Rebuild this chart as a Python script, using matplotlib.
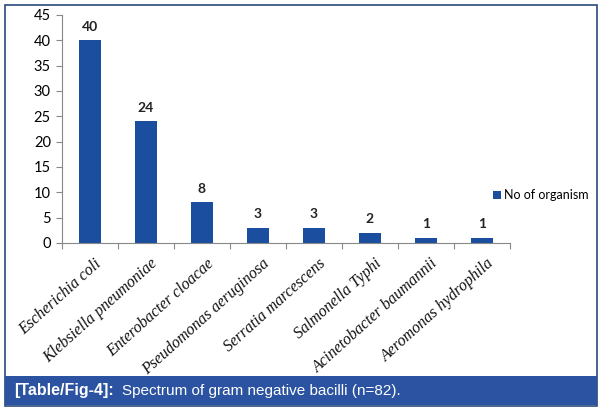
import matplotlib
matplotlib.use('Agg')
import matplotlib.pyplot as plt
from matplotlib.patches import Rectangle

# Datos
organismos = ['Escherichia coli', 'Klebsiella pneumoniae', 'Enterobacter cloacae',
              'Pseudomonas aeruginosa', 'Serratia marcescens', 'Salmonella Typhi',
              'Acinetobacter baumannii', 'Aeromonas hydrophila']
conteo = [40, 24, 8, 3, 3, 2, 1, 1]
yticks = [0, 5, 10, 15, 20, 25, 30, 35, 40, 45]
serie = 'No of organism'
titulo_tag = '[Table/Fig-4]:'
titulo = 'Spectrum of gram negative bacilli (n=82).'

W, H = 602, 409
fig = plt.figure(figsize=(W / 100, H / 100), dpi=100)
fig.patch.set_facecolor('white')

ax = fig.add_axes([62 / W, 1 - 243 / H, 448 / W, 228 / H])
x = list(range(len(organismos)))
ax.bar(x, conteo, width=0.4, color='#1B4E9E', label=serie)
for xi, v in zip(x, conteo):
    ax.text(xi, v + 1.5, str(v), ha='center', va='bottom', fontsize=10,
            fontweight='bold', family='Lato', color='#222222')

ax.set_xlim(-0.5, len(organismos) - 0.5)
ax.set_ylim(0, 45)
ax.set_yticks(yticks)
ax.set_yticklabels([str(t) for t in yticks], fontsize=10.5, family='Lato')
ax.set_xticks([i - 0.5 for i in range(len(organismos) + 1)])
ax.set_xticklabels([])
ax.tick_params(axis='both', length=4, color='#888888', direction='out', pad=2)
ax.tick_params(axis='y', pad=4)
for s in ['top', 'right']:
    ax.spines[s].set_visible(False)
for s in ['left', 'bottom']:
    ax.spines[s].set_color('#888888')
    ax.spines[s].set_linewidth(0.8)

for xi, nombre in zip(x, organismos):
    ax.text(xi + 0.08, -2.5, nombre, rotation=42, ha='right', va='top',
            rotation_mode='anchor', fontsize=11.5, style='italic',
            family='Liberation Serif', color='#111111')

ax.legend(loc='center left', bbox_to_anchor=((493 - 62) / 448, 0.21), frameon=False,
          handlelength=0.6, handleheight=0.6, handletextpad=0.3, borderpad=0,
          borderaxespad=0, prop={'family': 'Lato', 'size': 9})

# Marco y barra del titulo
fig.add_artist(Rectangle((5 / W, 1 - 406 / H), 592 / W, 401 / H, transform=fig.transFigure,
                         fill=False, edgecolor='#2A4A7A', linewidth=1.2))
fig.add_artist(Rectangle((5 / W, 1 - 405 / H), 592 / W, 29 / H, transform=fig.transFigure,
                         facecolor='#2B53A1', edgecolor='none'))
fig.text(14 / W, 1 - 391 / H, titulo_tag, color='white', fontsize=11.5, fontweight='bold',
         family='Liberation Sans', va='center')
fig.text(122 / W, 1 - 391 / H, titulo, color='white', fontsize=11,
         family='Liberation Sans', va='center')

fig.savefig('out.png', dpi=100, facecolor='white')
